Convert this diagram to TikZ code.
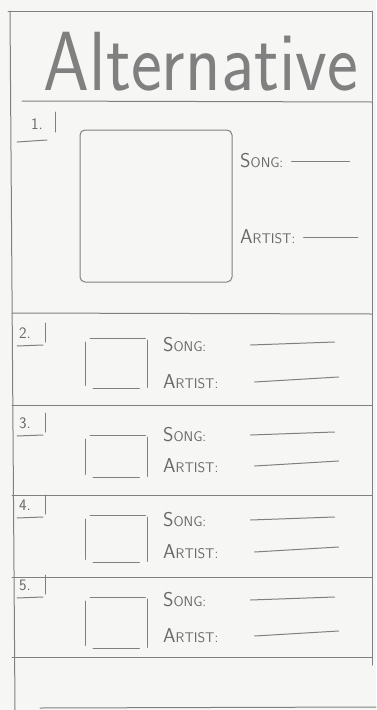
\documentclass[tikz,border=0pt]{standalone}
\usepackage{tikz}
\definecolor{pencil}{RGB}{128,128,128}
\definecolor{penciltext}{RGB}{105,105,105}
\definecolor{paper}{RGB}{246,246,244}
\newcommand{\scword}[2]{{\fontsize{20}{20}\selectfont #1}{\fontsize{14}{14}\selectfont #2}}

\begin{document}
\begin{tikzpicture}[x=1pt,y=-1pt,line cap=round,
    sketch/.style={pencil,line width=1pt},
    label/.style={penciltext,font=\sffamily,anchor=west,inner sep=0pt},
    number/.style={penciltext,font=\sffamily\fontsize{16}{16}\selectfont,inner sep=0pt},
    artbox/.style={inner sep=0pt}]
  \useasboundingbox[fill=paper] (0,0) rectangle (376,710);
  % frame and title
  \draw[sketch] (8,11) -- (372,11);
  \draw[sketch] (10,11) -- (15,710);
  \draw[sketch] (372,11) -- (372,665);
  \node[penciltext!85,font=\sffamily\fontsize{84}{84}\selectfont] (title) at (201,62) {\scalebox{0.875}[1]{Alternative}};
  \draw[sketch] (22,101) -- (372,102);
  % 1. big entry
  \node[number] (n1) at (37,124) {1.};
  \draw[sketch] (55,112) -- (55,132);
  \draw[sketch] (17,142) -- (47,140);
  \node[artbox,draw=pencil,line width=1pt,rounded corners=5pt,minimum width=152pt,minimum height=152pt] (art1) at (156,206) {};
  \node[label] (song1) at (240,161) {\scword{S}{ONG:}};
  \draw[sketch] ([xshift=8pt]song1.east) -- ++(58,0);
  \node[label] (artist1) at (240,237) {\scword{A}{RTIST:}};
  \draw[sketch] ([xshift=8pt]artist1.east) -- ++(54,0);
  \draw[sketch] (12,313) -- (372,314);
  % 2.--5. small entries
  \foreach \n/\t/\bt/\bh/\sy/\ay in {2/315/338/50/345/382,3/405/435/42/435/466,4/487/515/47/520/552,5/567/597/51/600/636}{
    \node[number] (n\n) at (25,\t+18) {\n.};
    \draw[sketch] (45,\t+8) -- (45,\t+27);
    \draw[sketch] (17,\t+31) -- (43,\t+30);
    \node[artbox,minimum width=62pt,minimum height=\bh pt,anchor=north west] (art\n) at (85,\bt) {};
    \draw[sketch] ([yshift=-4pt]art\n.north west) -- ([yshift=3pt]art\n.south west);
    \draw[sketch] ([xshift=5pt]art\n.north west) -- ([xshift=-2pt]art\n.north east);
    \draw[sketch] ([yshift=-2pt]art\n.north east) -- ([yshift=1pt]art\n.south east);
    \draw[sketch] ([xshift=8pt]art\n.south west) -- ([xshift=-8pt]art\n.south east);
    \node[label] (song\n) at (163,\sy) {\scword{S}{ONG:}};
    \draw[sketch] ([xshift=44pt]song\n.east) -- ++(84,-3);
    \node[label] (artist\n) at (163,\ay) {\scword{A}{RTIST:}};
    \draw[sketch] ([xshift=36pt]artist\n.east) -- ++(84,-5);
    \draw[sketch] (12,\t+90) -- (372,\t+90);
  }
  \draw[sketch] (40,708) -- (376,707);
\end{tikzpicture}
\end{document}
